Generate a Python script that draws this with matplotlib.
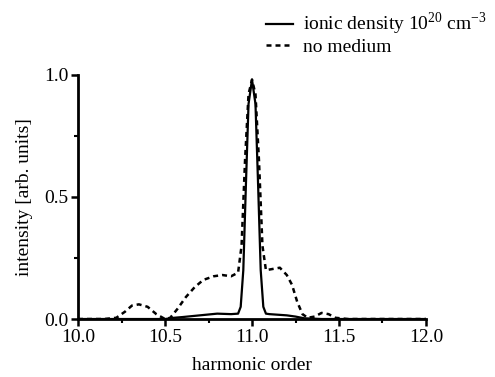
import matplotlib
matplotlib.use("Agg")
import matplotlib.pyplot as plt
from matplotlib.ticker import MultipleLocator

plt.rcParams['font.family'] = ['Liberation Serif', 'DejaVu Serif']
plt.rcParams['mathtext.fontset'] = 'custom'
plt.rcParams['mathtext.rm'] = 'Liberation Serif'

# ionic density curve
x_ion = [10.0, 10.2, 10.4, 10.5, 10.55, 10.6, 10.7, 10.8, 10.88, 10.92, 10.935, 10.95,
         10.965, 10.98, 11.0, 11.02, 11.035, 11.05, 11.065, 11.08, 11.1, 11.2, 11.25, 11.3, 11.4, 11.6, 12.0]
y_ion = [0.0, 0.0, 0.0, 0.0, 0.005, 0.008, 0.015, 0.022, 0.02, 0.022, 0.05, 0.2,
         0.55, 0.88, 0.98, 0.88, 0.55, 0.2, 0.05, 0.022, 0.02, 0.015, 0.01, 0.003, 0.0, 0.0, 0.0]

# no medium curve
x_nm = [10.0, 10.15, 10.22, 10.27, 10.31, 10.35, 10.4, 10.45, 10.5, 10.53, 10.57, 10.62, 10.67,
        10.72, 10.78, 10.83, 10.88, 10.92, 10.94, 10.96, 10.98, 11.0, 11.02, 11.04, 11.06, 11.08,
        11.12, 11.16, 11.2, 11.23, 11.26, 11.29, 11.32, 11.36, 11.4, 11.44, 11.48, 11.55, 11.7, 12.0]
y_nm = [0.0, 0.0, 0.005, 0.03, 0.055, 0.06, 0.05, 0.02, 0.0, 0.005, 0.04, 0.09, 0.13,
        0.16, 0.175, 0.18, 0.175, 0.19, 0.3, 0.65, 0.92, 0.98, 0.92, 0.65, 0.3, 0.2,
        0.205, 0.21, 0.18, 0.14, 0.07, 0.02, 0.005, 0.01, 0.025, 0.02, 0.005, 0.0, 0.0, 0.0]

fig = plt.figure(figsize=(4.95, 3.77), dpi=100)
ax = fig.add_axes([0.1576, 0.1538, 0.703, 0.648])

l1, = ax.plot(x_ion, y_ion, color='black', lw=1.6, solid_joinstyle='round')
l2, = ax.plot(x_nm, y_nm, color='black', lw=1.8, linestyle=(0, (2.0, 1.6)))

ax.set_xlim(10.0, 12.0)
ax.set_ylim(0.0, 1.0)
ax.xaxis.set_major_locator(MultipleLocator(0.5))
ax.xaxis.set_minor_locator(MultipleLocator(0.25))
ax.yaxis.set_major_locator(MultipleLocator(0.5))
ax.yaxis.set_minor_locator(MultipleLocator(0.25))
ax.xaxis.set_major_formatter(matplotlib.ticker.FormatStrFormatter('%.1f'))
ax.yaxis.set_major_formatter(matplotlib.ticker.FormatStrFormatter('%.1f'))

for s in ['top', 'right']:
    ax.spines[s].set_visible(False)
for s in ['left', 'bottom']:
    ax.spines[s].set_linewidth(2.0)

ax.tick_params(which='major', direction='out', length=5, width=1.8, labelsize=14, pad=2)
ax.tick_params(which='minor', direction='out', length=3, width=1.5)

ax.set_xlabel('harmonic order', fontsize=14, labelpad=8)
ax.set_ylabel('intensity [arb. units]', fontsize=14, labelpad=8)

fig.legend([l1, l2], ['ionic density 10$^{20}$ cm$^{-3}$', 'no medium'],
           loc='upper left', bbox_to_anchor=(0.515, 1.0), frameon=False, fontsize=14,
           handlelength=1.4, handletextpad=0.5, labelspacing=0.05, borderaxespad=0.15)

fig.savefig('out.png', dpi=100)
